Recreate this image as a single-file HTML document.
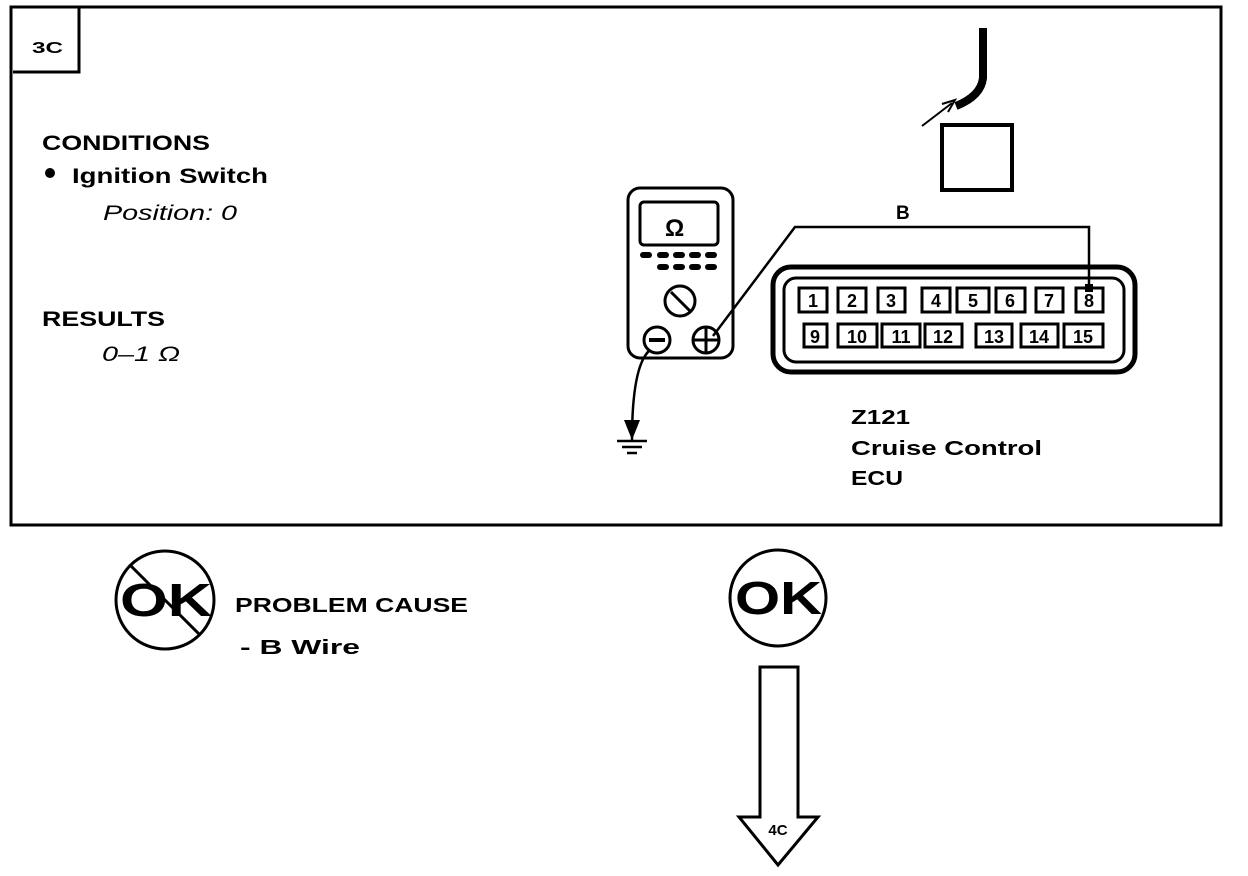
<!DOCTYPE html>
<html><head><meta charset="utf-8"><style>
html,body{margin:0;padding:0;background:#fff}
svg{display:block}
text{font-family:"Liberation Sans",Arial,sans-serif;fill:#000}
</style></head><body>
<svg width="1248" height="876" viewBox="0 0 1248 876" xmlns="http://www.w3.org/2000/svg">
<g fill="none" stroke="#000">
<rect x="11" y="7" width="1210" height="518" stroke-width="3"/>
<path d="M13 72 H79 V7" stroke-width="3"/>
<!-- top wire -->
<path d="M983 28 V78 Q981 96 956 106" stroke-width="8"/>
<line x1="922" y1="126" x2="952" y2="103" stroke-width="2"/>
<path d="M942 104 L955 100 L948 112" stroke-width="2"/>
<rect x="942" y="125" width="70" height="65" stroke-width="4"/>
<!-- meter -->
<rect x="628" y="188" width="105" height="170" rx="12" stroke-width="3"/>
<rect x="640" y="202" width="78" height="43" rx="4" stroke-width="3"/>
<circle cx="680" cy="301" r="15" stroke-width="3"/>
<line x1="671" y1="292" x2="690" y2="311" stroke-width="3"/>
<circle cx="657" cy="340" r="13" stroke-width="3"/>
<line x1="649" y1="340" x2="665" y2="340" stroke-width="4"/>
<circle cx="706" cy="340" r="13" stroke-width="3"/>
<line x1="693" y1="340" x2="719" y2="340" stroke-width="3"/>
<line x1="706" y1="327" x2="706" y2="353" stroke-width="3"/>
<!-- wires -->
<path d="M713 336 L795 227 H1089 V290" stroke-width="2.5"/>
<path d="M650 350 Q632 365 632 440" stroke-width="2.5"/>
<line x1="617" y1="441" x2="647" y2="441" stroke-width="2.5"/>
<line x1="622" y1="447" x2="642" y2="447" stroke-width="2.5"/>
<line x1="627" y1="453" x2="637" y2="453" stroke-width="2.5"/>
<!-- connector -->
<rect x="773" y="267" width="362" height="105" rx="18" stroke-width="5"/>
<rect x="784" y="278" width="340" height="84" rx="12" stroke-width="3"/>
<g stroke-width="3">
<rect x="799" y="288" width="28" height="24"/><rect x="838" y="288" width="28" height="24"/>
<rect x="878" y="288" width="27" height="24"/><rect x="922" y="288" width="28" height="24"/>
<rect x="957" y="288" width="32" height="24"/><rect x="996" y="288" width="29" height="24"/>
<rect x="1036" y="288" width="27" height="24"/><rect x="1076" y="288" width="27" height="24"/>
<rect x="804" y="324" width="23" height="23"/><rect x="838" y="324" width="39" height="23"/>
<rect x="882" y="324" width="38" height="23"/><rect x="925" y="324" width="37" height="23"/>
<rect x="976" y="324" width="36" height="23"/><rect x="1021" y="324" width="37" height="23"/>
<rect x="1064" y="324" width="39" height="23"/>
</g>
<!-- OK circles -->
<circle cx="165" cy="600" r="49" stroke-width="3"/>
<line x1="130" y1="565" x2="200" y2="635" stroke-width="3"/>
<circle cx="778" cy="598" r="48" stroke-width="3"/>
<path d="M760 667 H798 V817 H818 L778 865 L739 817 H760 Z" stroke-width="3"/>
</g>
<g fill="#000">
<path d="M624 420 L632 440 L640 420 Z"/>
<rect x="1085" y="284" width="8" height="8"/>
<rect x="640" y="252" width="12" height="6" rx="3"/><rect x="657" y="252" width="12" height="6" rx="3"/>
<rect x="673" y="252" width="12" height="6" rx="3"/><rect x="689" y="252" width="12" height="6" rx="3"/>
<rect x="705" y="252" width="12" height="6" rx="3"/>
<rect x="657" y="264" width="12" height="6" rx="3"/><rect x="673" y="264" width="12" height="6" rx="3"/>
<rect x="689" y="264" width="12" height="6" rx="3"/><rect x="705" y="264" width="12" height="6" rx="3"/>
<circle cx="50" cy="173" r="5"/>
</g>
<g font-weight="bold">
<text x="32" y="53" font-size="16" textLength="31" lengthAdjust="spacingAndGlyphs">3C</text>
<text x="42" y="150" font-size="21" textLength="168" lengthAdjust="spacingAndGlyphs">CONDITIONS</text>
<text x="72" y="183" font-size="21" textLength="196" lengthAdjust="spacingAndGlyphs">Ignition Switch</text>
<text x="42" y="326" font-size="21" textLength="123" lengthAdjust="spacingAndGlyphs">RESULTS</text>
<text x="665" y="236" font-size="24">Ω</text>
<text x="896" y="219" font-size="19">B</text>
<text x="851" y="424" font-size="20" textLength="59" lengthAdjust="spacingAndGlyphs">Z121</text>
<text x="851" y="455" font-size="20" textLength="191" lengthAdjust="spacingAndGlyphs">Cruise Control</text>
<text x="851" y="485" font-size="20" textLength="52" lengthAdjust="spacingAndGlyphs">ECU</text>
<text x="235" y="612" font-size="20" textLength="233" lengthAdjust="spacingAndGlyphs">PROBLEM CAUSE</text>
<text x="240" y="654" font-size="20" textLength="120" lengthAdjust="spacingAndGlyphs">-  B  Wire</text>
<text x="120" y="616" font-size="46" textLength="92" lengthAdjust="spacingAndGlyphs">OK</text>
<text x="735" y="614" font-size="46" textLength="87" lengthAdjust="spacingAndGlyphs">OK</text>
<text x="778" y="835" font-size="15" text-anchor="middle">4C</text>
<g font-size="18" text-anchor="middle">
<text x="813" y="307">1</text><text x="852" y="307">2</text><text x="891" y="307">3</text>
<text x="936" y="307">4</text><text x="973" y="307">5</text><text x="1010" y="307">6</text>
<text x="1049" y="307">7</text><text x="1089" y="307">8</text>
<text x="815" y="343">9</text><text x="857" y="343">10</text><text x="901" y="343">11</text>
<text x="943" y="343">12</text><text x="994" y="343">13</text><text x="1039" y="343">14</text>
<text x="1083" y="343">15</text>
</g>
</g>
<g font-style="italic" font-size="21">
<text x="103" y="220" textLength="134" lengthAdjust="spacingAndGlyphs">Position:  0</text>
<text x="102" y="361" textLength="78" lengthAdjust="spacingAndGlyphs">0–1  Ω</text>
</g>
</svg>
</body></html>
